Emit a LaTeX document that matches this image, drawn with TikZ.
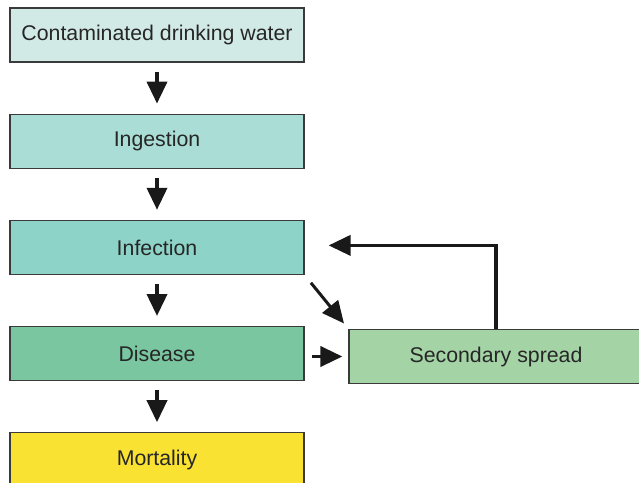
\documentclass[tikz,border=0pt]{standalone}
\usepackage{fontspec}
\setmainfont{Liberation Sans}
\usepackage{tikz}
\usetikzlibrary{arrows.meta}
\usetikzlibrary{calc,positioning}
\usepackage{xcolor}

\definecolor{waterfill}{HTML}{D2EAE6}
\definecolor{ingestfill}{HTML}{A9DDD5}
\definecolor{infectfill}{HTML}{8DD3C7}
\definecolor{diseasefill}{HTML}{79C6A1}
\definecolor{deathfill}{HTML}{FAE232}
\definecolor{spreadfill}{HTML}{A4D4A6}
\definecolor{boxline}{HTML}{3A3A3A}

\tikzset{
  stage/.style={draw=boxline,line width=1.2pt,minimum width=294pt,minimum height=54pt,
    inner sep=0pt,font=\fontsize{21.3}{25}\selectfont,text=black!85},
  flow/.style={line width=3.8pt,black!90,-{Triangle[length=22pt,width=20pt]}},
}

\begin{document}
\begin{tikzpicture}[x=1pt,y=-1pt]
			\useasboundingbox (0,0) rectangle (639,482);
			\clip (0,0) rectangle (639,482);
			
			% main chain
			\node[stage,fill=waterfill] (water) at (157,35) {Contaminated drinking water};
			\node[stage,fill=ingestfill,below=51pt of water] (ingest) {Ingestion};
			\node[stage,fill=infectfill,below=51pt of ingest] (infect) {Infection};
			\node[stage,fill=diseasefill,below=51pt of infect] (disease) {Disease};
			\node[stage,fill=deathfill,below=51pt of disease] (death) {Mortality};
			
			% side box
			\node[stage,fill=spreadfill] (spread) at (496,356.5) {Secondary spread};
			
			% arrows down
			\foreach \a/\b in {water/ingest,ingest/infect,infect/disease,disease/death}{
				\draw[flow,shorten <=9pt,shorten >=10pt] (\a.south) -- (\b.north);
			}
			
			% arrows to and from the side box
			\draw[flow,line width=3pt,shorten <=10pt,shorten >=7pt] (infect.south east) -- (spread.north west);
			\draw[flow,shorten <=7pt,shorten >=6pt] (disease.east |- spread.west) -- (spread.west);
			\draw[flow,shorten >=24pt] (spread.north) |- ($(infect.east)+(0,-2)$);
		\end{tikzpicture}
\end{document}
